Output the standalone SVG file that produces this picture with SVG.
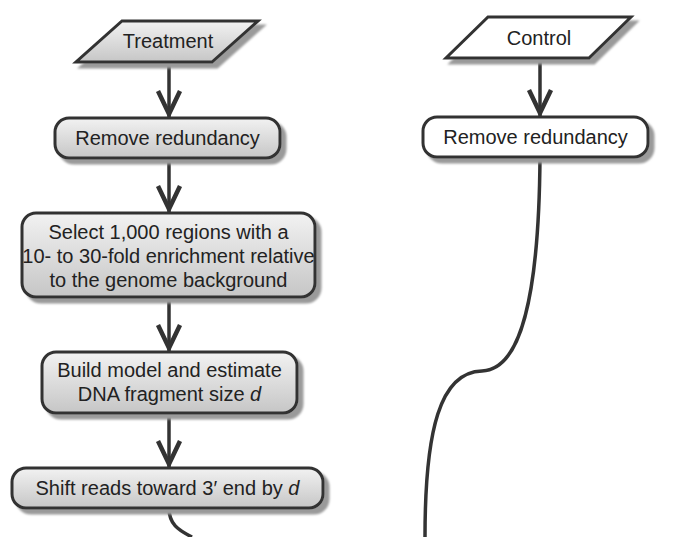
<svg xmlns="http://www.w3.org/2000/svg" width="679" height="537" viewBox="0 0 679 537">
<defs>
<linearGradient id="g" x1="0" y1="0" x2="0" y2="1">
<stop offset="0" stop-color="#f2f2f2"/>
<stop offset="1" stop-color="#c6c6c6"/>
</linearGradient>
<filter id="sh" x="-10%" y="-20%" width="130%" height="160%">
<feGaussianBlur in="SourceAlpha" stdDeviation="1.2" result="b"/>
<feOffset in="b" dx="5" dy="5" result="o"/>
<feFlood flood-color="#9a9a9a"/>
<feComposite in2="o" operator="in" result="s"/>
<feMerge><feMergeNode in="s"/><feMergeNode in="SourceGraphic"/></feMerge>
</filter>
<marker id="ah" markerUnits="userSpaceOnUse" viewBox="-30 -14 36 28" markerWidth="36" markerHeight="28" refX="0" refY="0" orient="auto">
<path d="M-26,-11 L-3,0 L-26,11" fill="none" stroke="#333" stroke-width="4.5"/>
</marker>
</defs>
<style>
.box{stroke:#333;stroke-width:3;filter:url(#sh)}
.gray{fill:url(#g)}
.white{fill:#fff}
.t{font-family:"Liberation Sans",Arial,sans-serif;font-size:20px;fill:#222;text-anchor:middle}
.c{fill:none;stroke:#333;stroke-width:3.5}
</style>
<rect width="679" height="537" fill="#fff"/>
<g id="connectors">
<path class="c" d="M169,62 V117" marker-end="url(#ah)"/>
<path class="c" d="M169,158 V212" marker-end="url(#ah)"/>
<path class="c" d="M169,297 V351" marker-end="url(#ah)"/>
<path class="c" d="M169,413 V467" marker-end="url(#ah)"/>
<path class="c" d="M169,508 C169,524 178,530 192,537"/>
<path class="c" d="M540,58 V116" marker-end="url(#ah)"/>
<path class="c" d="M540,157 C539,300 520,370 482,371 C440,372 425,430 425,537"/>
</g>
<g id="treatment">
<polygon class="box gray" points="122,21 258,21 212,62 76,62"/>
<text class="t" x="168" y="48">Treatment</text>
</g>
<g id="remove-treatment">
<rect class="box gray" x="55" y="118" width="225" height="40" rx="14"/>
<text class="t" x="167.5" y="145">Remove redundancy</text>
</g>
<g id="select">
<rect class="box gray" x="22" y="213" width="293" height="84" rx="14"/>
<text class="t" x="168.5" y="239">Select 1,000 regions with a</text>
<text class="t" x="168.5" y="263">10- to 30-fold enrichment relative</text>
<text class="t" x="168.5" y="287">to the genome background</text>
</g>
<g id="build">
<rect class="box gray" x="42" y="352" width="255" height="61" rx="14"/>
<text class="t" x="169.5" y="377">Build model and estimate</text>
<text class="t" x="169.5" y="401">DNA fragment size <tspan font-style="italic">d</tspan></text>
</g>
<g id="shift">
<rect class="box gray" x="12" y="468" width="311" height="40" rx="14"/>
<text class="t" x="167.5" y="495">Shift reads toward 3′ end by <tspan font-style="italic">d</tspan></text>
</g>
<g id="control">
<polygon class="box white" points="488,17 631,17 589,58 446,58"/>
<text class="t" x="539" y="45">Control</text>
</g>
<g id="remove-control">
<rect class="box white" x="423" y="117" width="225" height="40" rx="14"/>
<text class="t" x="535.5" y="144">Remove redundancy</text>
</g>
</svg>
